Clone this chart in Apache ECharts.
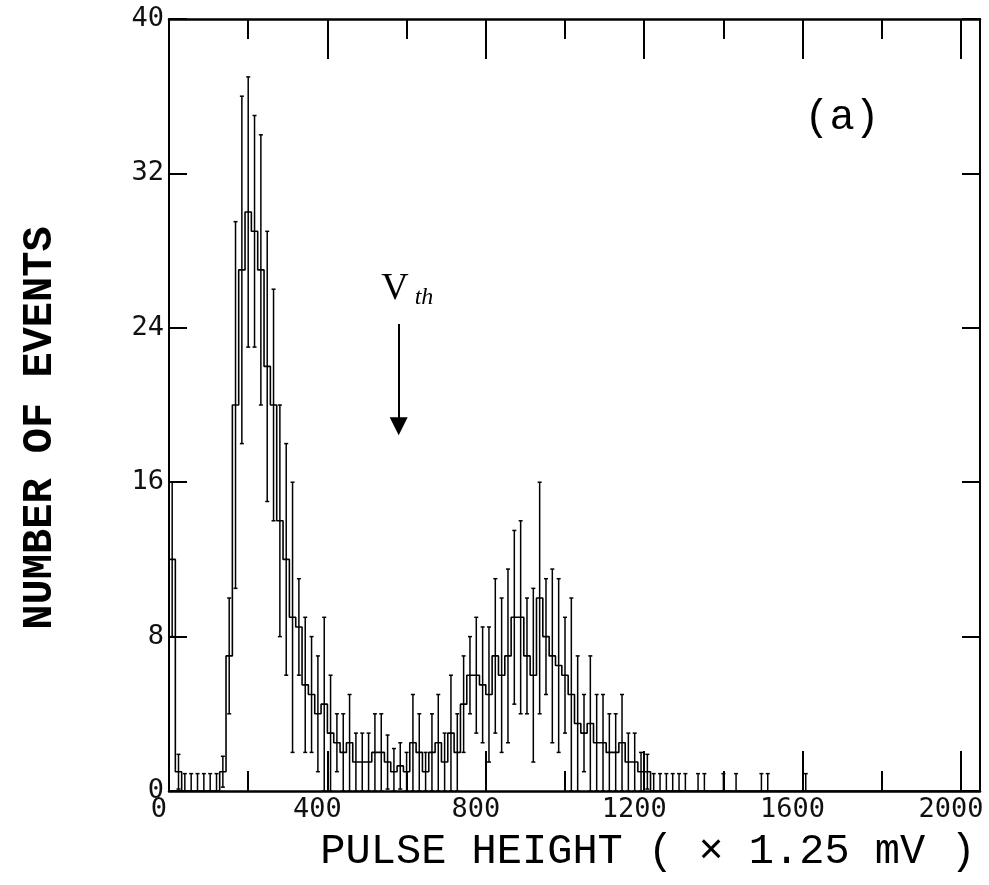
<!DOCTYPE html>
<html><head><meta charset="utf-8">
<script src="https://cdn.jsdelivr.net/npm/echarts@6/dist/echarts.min.js"></script>
<style>html,body{margin:0;padding:0;background:#fff}#c{width:989px;height:885px}</style>
</head><body><div id="c"></div>
<script>
// ---- data ----
const binWidth = 16;          // channels per histogram bin
const axisMaxX = 2048;
const counts = [
  12, 1, 0, 0, 0, 0, 0, 0, 1, 7,
  20, 27, 30, 29, 27, 22, 20, 14, 12, 9,
  8.5, 5.5, 5, 4, 4.5, 3, 2.5, 2, 2.5, 1.5,
  1.5, 1.5, 2, 2, 1.5, 1, 1.3, 1, 2.5, 2,
  1, 2, 2.5, 1.5, 3, 2, 4.5, 6, 6, 5.5,
  5, 7, 6, 7, 9, 9, 7, 6, 10, 8,
  7, 6.5, 6, 5, 3.5, 3, 3.5, 2.5, 2.5, 2,
  2, 2.5, 1.5, 1.5, 1, 1, 0, 0, 0, 0,
  0, 0, 0, 0, 0, 0, 0, 0, 0, 0,
  0, 0, 0, 0, 0, 0, 0, 0, 0, 0,
  0
];
const errors = [
  4, 0.9, 0.9, 0.9, 0.9, 0.9, 0.9, 0.9, 0.8, 3,
  9.5, 9, 7, 6, 7, 7, 6, 6, 6, 7,
  2.5, 3.5, 3, 3, 4.5, 3, 1.5, 2, 2.5, 1.5,
  1.5, 1.5, 2, 2, 1.4, 1.2, 1.2, 1, 2.5, 2,
  1, 2, 2.5, 1.5, 3, 2, 2.5, 2, 3, 3,
  3.5, 4, 4, 4.5, 4.5, 5, 3, 4.5, 6, 3,
  4.5, 4.5, 3, 5, 3.5, 2, 3.5, 2.5, 2.5, 2,
  2, 2.5, 1.5, 1.5, 1, 0.9, 0.9, 0.9, 0.9, 0.9,
  0.9, 0.9, 0, 0.9, 0.9, 0, 0, 0.9, 0, 0.9,
  0, 0, 0, 0.9, 0.9, 0, 0, 0, 0, 0,
  0.9
];
const xTickLabels = [0, 400, 800, 1200, 1600, 2000];
const yTickLabels = [0, 8, 16, 24, 32, 40];
const vthValue = 580;          // threshold arrow position
const vthArrowFrom = 24.2;
const vthArrowTo = 18.9;

// ---- build series data ----
const stepData = counts.map((c, i) => [i * binWidth, c]);
stepData.push([counts.length * binWidth, 0]);
stepData.push([axisMaxX, 0]);
const errData = [];
counts.forEach((c, i) => {
  if (errors[i] > 0) errData.push([i * binWidth + binWidth / 2, Math.max(0, c - errors[i]), c + errors[i]]);
});

const chart = echarts.init(document.getElementById('c'), null, {renderer: 'canvas'});
const tickFont = '"DejaVu Sans Mono", monospace';
const xLabelFmt = v => (xTickLabels.indexOf(v) >= 0 ? String(v) : '');
const yLabelFmt = v => (yTickLabels.indexOf(v) >= 0 ? String(v) : '');
const xBase = {
  type: 'value', min: 0, max: axisMaxX, interval: 400,
  axisLine: {show: true, onZero: false, lineStyle: {color: '#000', width: 2.5}},
  axisTick: {show: true, inside: true, length: 40, lineStyle: {color: '#000', width: 2}},
  minorTick: {show: true, splitNumber: 2, length: 20, lineStyle: {color: '#000', width: 2}},
  splitLine: {show: false}, minorSplitLine: {show: false}
};
const yBase = {
  type: 'value', min: 0, max: 40, interval: 8,
  axisLine: {show: true, onZero: false, lineStyle: {color: '#000', width: 2}},
  axisTick: {show: true, inside: true, length: 18, lineStyle: {color: '#000', width: 2}},
  splitLine: {show: false}
};

chart.setOption({
  animation: false,
  backgroundColor: '#fff',
  grid: {left: 169, right: 9, top: 19, bottom: 94, containLabel: false},
  xAxis: [
    Object.assign({}, xBase, {position: 'bottom',
      axisLabel: {show: true, formatter: xLabelFmt, fontFamily: tickFont, fontSize: 27, color: '#111',
        margin: 5, padding: [0, 20, 0, 0], showMaxLabel: false}}),
    Object.assign({}, xBase, {position: 'top', axisLabel: {show: false}})
  ],
  yAxis: [
    Object.assign({}, yBase, {position: 'left',
      axisLabel: {show: true, formatter: yLabelFmt, fontFamily: tickFont, fontSize: 27, color: '#111', margin: 5}}),
    Object.assign({}, yBase, {position: 'right', axisLabel: {show: false}})
  ],
  series: [
    {
      type: 'line', step: 'end', data: stepData, xAxisIndex: 0, yAxisIndex: 0,
      symbol: 'none', lineStyle: {color: '#000', width: 1.6}, z: 3,
      markLine: {
        silent: true, symbol: ['none', 'triangle'], symbolSize: 18,
        lineStyle: {color: '#000', width: 2, type: 'solid'},
        label: {show: false},
        data: [[{coord: [vthValue, vthArrowFrom]}, {coord: [vthValue, vthArrowTo]}]]
      }
    },
    {
      type: 'custom', data: errData, xAxisIndex: 0, yAxisIndex: 0, z: 4,
      encode: {x: 0, y: [1, 2]},
      renderItem: function (params, api) {
        const x = api.value(0), lo = api.value(1), hi = api.value(2);
        const p1 = api.coord([x, lo]), p2 = api.coord([x, hi]);
        const cap = 2;
        const st = {stroke: '#000', lineWidth: 1.5};
        return {type: 'group', children: [
          {type: 'line', shape: {x1: p1[0], y1: p1[1], x2: p2[0], y2: p2[1]}, style: st},
          {type: 'line', shape: {x1: p2[0] - cap, y1: p2[1], x2: p2[0] + cap, y2: p2[1]}, style: st},
          {type: 'line', shape: {x1: p1[0] - cap, y1: p1[1], x2: p1[0] + cap, y2: p1[1]}, style: st}
        ]};
      }
    }
  ],
  graphic: [
    {type: 'text', x: 40, y: 428, rotation: Math.PI / 2,
      style: {text: 'NUMBER OF EVENTS', font: 'bold 42px "Liberation Mono", monospace', fill: '#000',
        textAlign: 'center', textVerticalAlign: 'middle'}},
    {type: 'text', x: 648, y: 852,
      style: {text: 'PULSE HEIGHT ( \u00d7 1.25 mV )', font: '42px "Liberation Mono", monospace', fill: '#000',
        textAlign: 'center', textVerticalAlign: 'middle'}},
    {type: 'text', x: 842, y: 118,
      style: {text: '(a)', font: '42px "Liberation Mono", monospace', fill: '#000',
        textAlign: 'center', textVerticalAlign: 'middle'}},
    {type: 'text', x: 395, y: 289,
      style: {text: 'V', font: '38px "Liberation Serif", serif', fill: '#000',
        textAlign: 'center', textVerticalAlign: 'middle'}},
    {type: 'text', x: 424, y: 298,
      style: {text: 'th', font: 'italic 24px "Liberation Serif", serif', fill: '#000',
        textAlign: 'center', textVerticalAlign: 'middle'}}
  ]
});
</script>
</body></html>
